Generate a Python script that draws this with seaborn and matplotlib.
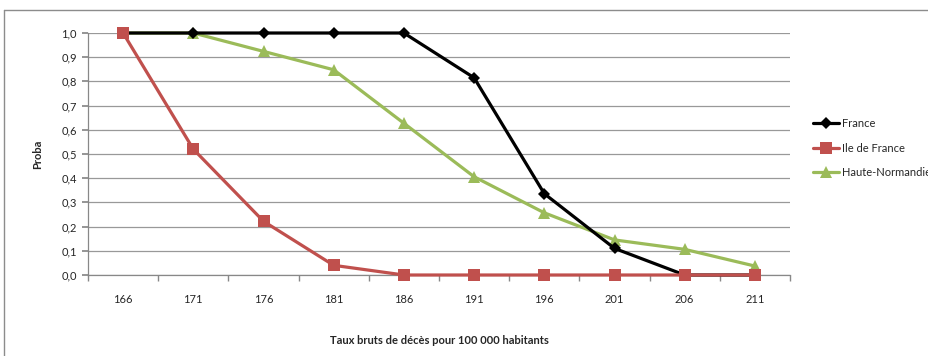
import matplotlib
matplotlib.use("Agg")
import matplotlib.pyplot as plt
import seaborn as sns
import pandas as pd
from matplotlib.lines import Line2D
from matplotlib.ticker import FuncFormatter, FixedLocator

categories = [166, 171, 176, 181, 186, 191, 196, 201, 206, 211]
france = [1.0, 1.0, 1.0, 1.0, 1.0, 0.815, 0.336, 0.110, 0.0, 0.0]
ile_de_france = [1.0, 0.52, 0.222, 0.04, 0.0, 0.0, 0.0, 0.0, 0.0, 0.0]
haute_normandie = [1.0, 1.0, 0.924, 0.848, 0.627, 0.406, 0.257, 0.145, 0.106, 0.037]
series_names = ["France", "Ile de France", "Haute-Normandie"]

rows = []
for name, vals in zip(series_names, [france, ile_de_france, haute_normandie]):
    for c, v in zip(categories, vals):
        rows.append({"x": c, "y": v, "serie": name})
df = pd.DataFrame(rows)

sns.set_theme(style="white")
plt.rcParams['font.family'] = ['Lato', 'DejaVu Sans']

fig = plt.figure(figsize=(9.29, 3.56), dpi=100)
ax = fig.add_axes([88/929, 1-275/356, (790-88)/929, (275-33)/356])

colors = {"France": "#000000", "Ile de France": "#C0504D", "Haute-Normandie": "#9BBB59"}
markers = {"France": "D", "Ile de France": "s", "Haute-Normandie": "^"}
sizes = {"France": 6, "Ile de France": 8, "Haute-Normandie": 8}

for name in ["Haute-Normandie", "France", "Ile de France"]:
    sub = df[df["serie"] == name]
    sns.lineplot(data=sub, x="x", y="y", ax=ax, color=colors[name], marker=markers[name],
                 markersize=sizes[name], markeredgewidth=0, linewidth=2.3, legend=False,
                 clip_on=False, zorder=3)

ax.set_xlim(163.5, 213.5)
ax.set_ylim(0, 1.0)
ax.set_yticks([i/10 for i in range(11)])
ax.yaxis.set_major_formatter(FuncFormatter(lambda v, p: f"{v:.1f}".replace(".", ",")))
ax.set_xticks(categories)
ax.set_xticklabels([str(c) for c in categories])
ax.xaxis.set_minor_locator(FixedLocator([163.5 + 5*k for k in range(11)]))
ax.tick_params(axis='x', which='major', length=0, pad=14, labelsize=8)
ax.tick_params(axis='x', which='minor', length=4, color='#888888', direction='out', bottom=True)
ax.tick_params(axis='y', which='major', length=4, color='#888888', direction='out', left=True, labelsize=8, pad=4)

ax.grid(axis='y', color='#999999', linewidth=0.9)
ax.set_axisbelow(True)
for s in ["top", "right"]:
    ax.spines[s].set_visible(False)
for s in ["left", "bottom"]:
    ax.spines[s].set_color('#888888')
    ax.spines[s].set_linewidth(0.9)

ax.set_xlabel("Taux bruts de décès pour 100 000 habitants", fontsize=8, fontweight='bold')
ax.set_ylabel("Proba", fontsize=8, fontweight='bold')
ax.yaxis.set_label_coords(-45/702, 0.5)
ax.xaxis.set_label_coords(0.5, -(335-275)/242)

handles = [Line2D([0], [0], color=colors[n], marker=markers[n], markersize=sizes[n],
                  markeredgewidth=0, linewidth=2.3) for n in series_names]
fig.legend(handles, series_names, loc='center left', bbox_to_anchor=(803/929, 1-148/356),
           frameon=False, fontsize=8, handlelength=2.3, labelspacing=1.2, handletextpad=0.3)

fig.add_artist(Line2D([4/929, 1.0], [1-10/356, 1-10/356], transform=fig.transFigure, color='#8c8c8c', linewidth=1))
fig.add_artist(Line2D([4/929, 4/929], [0, 1-10/356], transform=fig.transFigure, color='#8c8c8c', linewidth=1))

fig.savefig("out.png", dpi=100)
